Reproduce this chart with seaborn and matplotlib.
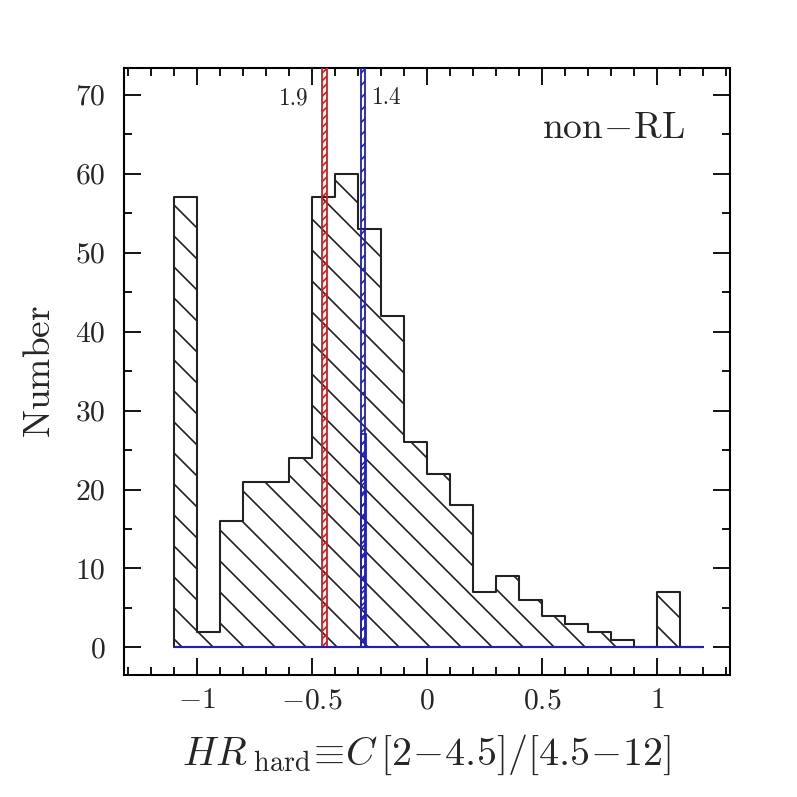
"""
Hard hardness-ratio histogram for the non-RL sample.
"""

import matplotlib
matplotlib.use("Agg")
import matplotlib.pyplot as plt
import numpy as np
import pandas as pd
import seaborn as sns
from matplotlib.ticker import MultipleLocator

# histogram bins (HR_hard) and counts
bin_edges = [-1.1, -1.0, -0.9, -0.8, -0.7, -0.6, -0.5, -0.4, -0.3, -0.2, -0.1, 0.0,
             0.1, 0.2, 0.3, 0.4, 0.5, 0.6, 0.7, 0.8, 0.9, 1.0, 1.1, 1.2]
counts = [57, 2, 16, 21, 21, 24, 57, 60, 53, 42, 26, 22,
          18, 7, 9, 6, 4, 3, 2, 1, 0, 7, 0]

# expected HR for power laws with photon index 1.9 / 1.4
gamma_labels = ["1.9", "1.4"]
gamma_colors = ["#cc2020", "#2020b4"]
gamma_hatch = ["////////", "/////"]
band_left = [-0.455, -0.287]
band_right = [-0.433, -0.270]
band_top = [200, 200]

# extra narrow bin of the Gamma=1.4 distribution
extra_left = [-0.287]
extra_right = [-0.265]
extra_count = [27]

sns.set_theme(style="ticks")
plt.rcParams["font.family"] = ["cmr10", "DejaVu Serif"]
plt.rcParams["mathtext.fontset"] = "cm"
plt.rcParams["axes.formatter.use_mathtext"] = True
plt.rcParams["hatch.linewidth"] = 0.65

DPI = 186
fig = plt.figure(figsize=(797 / DPI, 797 / DPI), dpi=DPI)
ax = fig.add_axes([0.1556, 0.153, 0.7604, 0.7617])

edges = np.array(bin_edges)
df = pd.DataFrame({"hr": (edges[:-1] + edges[1:]) / 2, "n": counts})

sns.histplot(
    data=df, x="hr", weights="n", bins=bin_edges, element="step", fill=True,
    color="black", facecolor="none", edgecolor="#222222", hatch="\\\\", linewidth=0.8, ax=ax,
)

# photon-index bands
for i, lab in enumerate(gamma_labels):
    ax.bar(band_left[i], band_top[i], width=band_right[i] - band_left[i], align="edge",
           facecolor="none", edgecolor=gamma_colors[i], hatch=gamma_hatch[i],
           linewidth=0.7, zorder=3)
ax.bar(extra_left, extra_count, width=np.subtract(extra_right, extra_left), align="edge",
       facecolor="none", edgecolor=gamma_colors[1], hatch="//////", linewidth=0.7, zorder=3)

# baseline of the model histograms
ax.plot([bin_edges[0], bin_edges[-1]], [0, 0], color=gamma_colors[1], lw=0.8, zorder=4)

ax.text(band_left[0] - 0.062, 69.6, gamma_labels[0], ha="right", va="center", fontsize=9)
ax.text(band_right[1] + 0.028, 69.6, gamma_labels[1], ha="left", va="center", fontsize=9)
ax.text(0.807, 0.901, r"$\mathrm{non\!-\!RL}$", transform=ax.transAxes,
        ha="center", va="center", fontsize=14.5)

ax.set_xlim(-1.317, 1.317)
ax.set_ylim(-3.5, 73.4)
ax.xaxis.set_major_locator(MultipleLocator(0.5))
ax.xaxis.set_minor_locator(MultipleLocator(0.1))
ax.yaxis.set_major_locator(MultipleLocator(10))
ax.yaxis.set_minor_locator(MultipleLocator(5))
ax.xaxis.set_major_formatter(plt.FuncFormatter(lambda v, p: f"${v:g}$"))
ax.yaxis.set_major_formatter(plt.FuncFormatter(lambda v, p: f"${v:g}$"))
ax.tick_params(which="both", direction="in", top=True, right=True, width=0.7, color="black")
ax.tick_params(which="major", length=6.6, labelsize=11.5)
ax.tick_params(which="minor", length=3.1)
ax.tick_params(axis="y", pad=7)
ax.tick_params(axis="x", pad=5)
for s in ax.spines.values():
    s.set_linewidth(0.8)
    s.set_color("black")

ax.set_xlabel(r"$HR_{\rm\ hard}\!\equiv\!C\,[2\!-\!4.5]/[4.5\!-\!12]$", fontsize=15.5, labelpad=7)
ax.set_ylabel(r"$\mathrm{Number}$", fontsize=14.5, labelpad=7)

fig.savefig("out.png", dpi=DPI)
